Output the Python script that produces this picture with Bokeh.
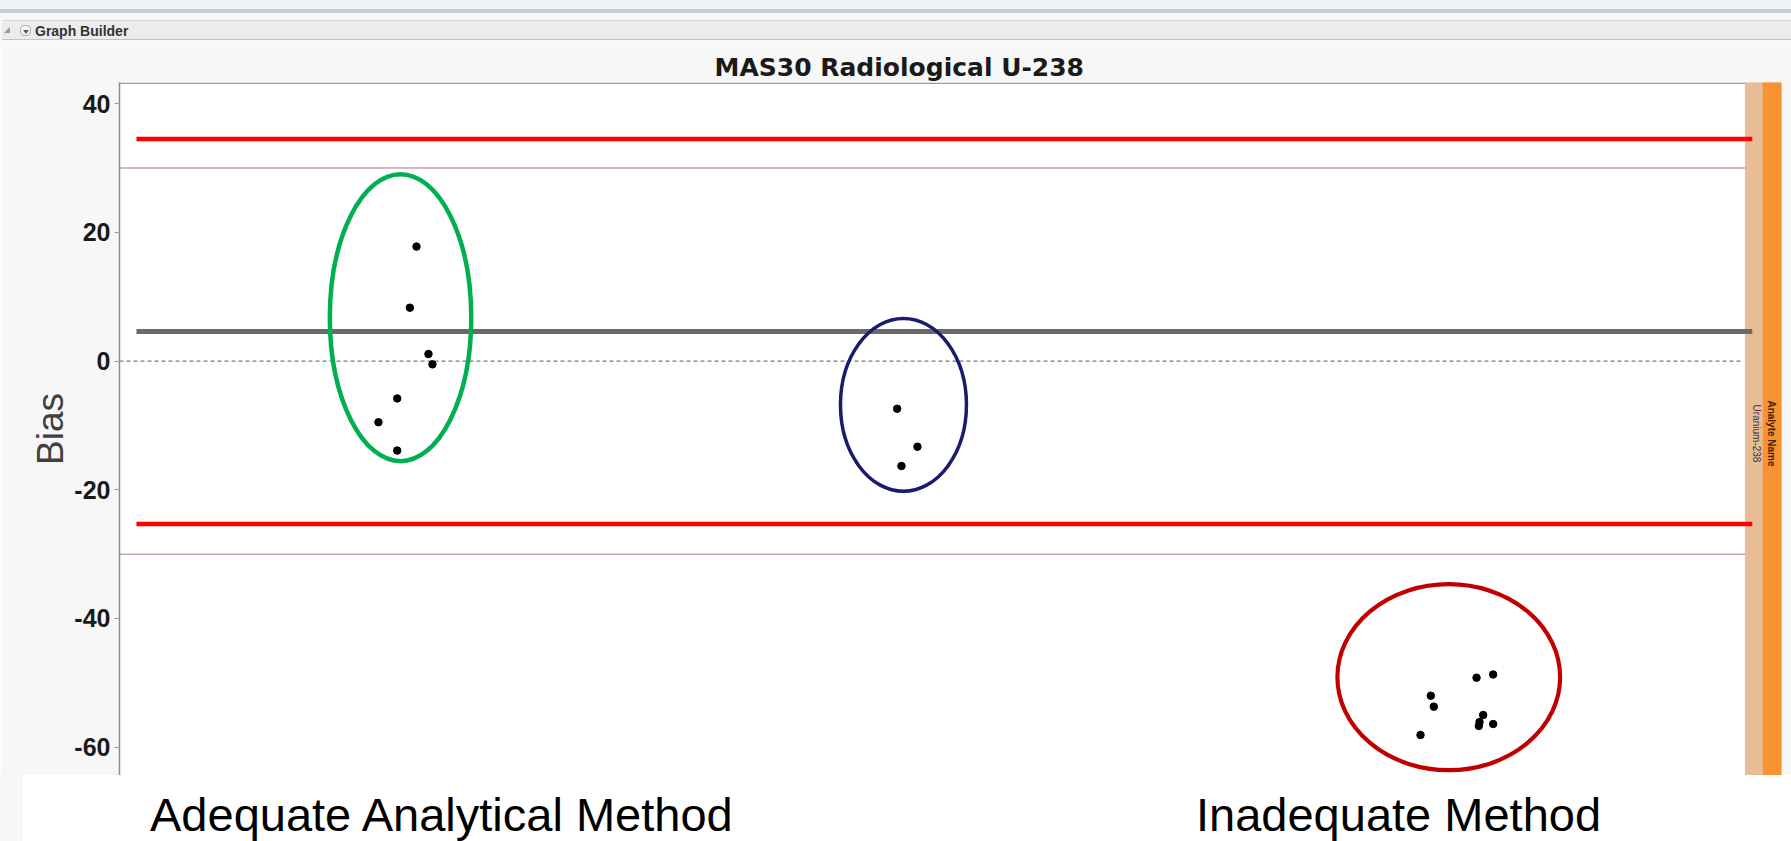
from bokeh.plotting import figure
from bokeh.layouts import column
from bokeh.models import FixedTicker, Div
from bokeh.embed import file_html
from bokeh.resources import INLINE
from bokeh.core.properties import value
import math

# ---------------- data ----------------
TITLE = "MAS30 Radiological U-238"
HEADER = "Graph Builder"
Y_LABEL = "Bias"
Y_TICKS = [-60, -40, -20, 0, 20, 40]
Y_TICK_LABELS = ["-60", "-40", "-20", "0", "20", "40"]
GROUP_LABELS = ["Adequate Analytical Method", "Inadequate Method"]
STRIP_TITLE = "Analyte Name"
STRIP_VALUE = "Uranium-238"

# x = plotting position of each result (0-100 scale), bias in %
adequate_x = [17.87, 17.47, 18.59, 18.83, 16.71, 15.58, 16.71]
adequate_bias = [17.8, 8.3, 1.1, -0.5, -5.8, -9.5, -13.9]
middle_x = [46.79, 48.01, 47.05]
middle_bias = [-7.4, -13.3, -16.3]
inadequate_x = [78.90, 79.08, 78.28, 81.65, 82.65, 82.05, 81.83, 81.79, 82.65]
inadequate_bias = [-52.0, -53.7, -58.1, -49.2, -48.7, -55.0, -56.1, -56.7, -56.4]

upper_limit = 34.5
lower_limit = -25.3
mean_bias = 4.6
accept_hi = 30
accept_lo = -30

# circled groups: centre x, centre bias, width, height
ring_x = [16.91, 47.17, 79.98]
ring_y = [6.75, -6.8, -49.12]
ring_w = [8.51, 7.58, 13.4]
ring_h = [44.6, 26.84, 28.9]
ring_colors = ["#00B050", "#1B1B6E", "#C00000"]
ring_widths = [4.5, 3.5, 4.2]

# ---------------- layout ----------------
W = 1791
FONT = value("Liberation Sans")
BG = "#F7F7F7"
Y0, Y1 = -64.4, 43.3

# header bar (window chrome)
header_html = (
    '<div style="position:relative;width:1791px;height:45px;background:#F7F7F7;overflow:hidden;margin:0;">'
    '<div style="position:absolute;left:0;top:0;width:1791px;height:9px;background:#EEF2F5;"></div>'
    '<div style="position:absolute;left:0;top:9px;width:1791px;height:4px;background:#C3CDD8;"></div>'
    '<div style="position:absolute;left:2px;top:20px;width:1789px;height:20px;background:#ECECEC;'
    'border-top:1px solid #D6D6D6;border-bottom:1px solid #C4C4C4;"></div>'
    '<div style="position:absolute;left:4px;top:27px;width:0;height:0;border-left:6px solid transparent;'
    'border-bottom:6px solid #9A9A9A;"></div>'
    '<div style="position:absolute;left:20px;top:25px;width:11px;height:11px;border:1px solid #B0B0B0;'
    'border-radius:4px;background:#F6F6F6;"></div>'
    '<div style="position:absolute;left:23px;top:30px;width:0;height:0;border-left:3px solid transparent;'
    'border-right:3px solid transparent;border-top:4px solid #555;"></div>'
    '<span style="position:absolute;left:35px;top:23px;font-family:\'Liberation Sans\';font-weight:bold;'
    f'font-size:14px;line-height:17px;color:#333;white-space:nowrap;">{HEADER}</span>'
    '</div>'
)
hdr = Div(text=header_html, width=W, height=45, styles={"overflow": "hidden", "margin": "0"})

# main chart
p = figure(width=W, height=730, x_range=(0, 100), y_range=(Y0, Y1),
           title=TITLE, output_backend="svg", toolbar_location=None,
           x_axis_location=None, min_border_left=119, min_border_right=10,
           min_border_top=37, min_border_bottom=0, outline_line_color=None,
           background_fill_color="white", border_fill_color=BG)
p.grid.visible = False
p.title.text_font = "DejaVu Sans"
p.title.text_font_size = "25px"
p.title.text_font_style = "bold"
p.title.text_color = "#1A1A1A"
p.title.align = "left"
p.title.offset = 595
p.title.standoff = 1

ax = p.yaxis[0]
ax.ticker = FixedTicker(ticks=Y_TICKS)
ax.major_label_overrides = dict(zip(Y_TICKS, Y_TICK_LABELS))
ax.major_label_text_font = "Liberation Sans"
ax.major_label_text_font_size = "25px"
ax.major_label_text_font_style = "bold"
ax.major_label_text_color = "#1A1A1A"
ax.major_label_standoff = 4
ax.major_tick_out = 5
ax.major_tick_in = 0
ax.minor_tick_out = 0
ax.minor_tick_in = 0
ax.axis_line_color = "#8C8C8C"
ax.axis_line_width = 1.5
ax.major_tick_line_color = "#9A9A9A"
ax.axis_label = Y_LABEL
ax.axis_label_text_font = "Liberation Sans"
ax.axis_label_text_font_size = "37px"
ax.axis_label_text_font_style = "normal"
ax.axis_label_text_color = "#404040"
ax.axis_label_standoff = 0

# right-hand group strip
p.quad(left=[97.83], right=[98.9], bottom=[Y0], top=[Y1], color="#E9BC98")
p.quad(left=[98.9], right=[100], bottom=[Y0], top=[Y1], color="#F79332")
p.text(x=[99.4], y=[-11.25], text=[STRIP_TITLE], angle=-math.pi / 2,
       text_font=FONT, text_font_size="10px", text_font_style="bold",
       text_color="#4A2000", text_align="center", text_baseline="middle")
p.text(x=[98.47], y=[-11.25], text=[STRIP_VALUE], angle=-math.pi / 2,
       text_font=FONT, text_font_size="10px", text_color="#3A3A3A",
       text_align="center", text_baseline="middle")

# frame top line
p.segment(x0=[0], x1=[97.83], y0=[Y1 - 0.12], y1=[Y1 - 0.12],
          line_color="#9C9C9C", line_width=1.5)

# acceptance band (thin), zero line, limits, mean
p.segment(x0=[0, 0], x1=[97.83, 97.83], y0=[accept_hi, accept_lo],
          y1=[accept_hi, accept_lo], line_color="#C9A3AA", line_width=1.5)
p.segment(x0=[0], x1=[97.6], y0=[0], y1=[0], line_color="#7A7A7A",
          line_width=1.3, line_dash="4 3")
p.segment(x0=[1.02, 1.02], x1=[98.24, 98.24], y0=[upper_limit, lower_limit],
          y1=[upper_limit, lower_limit], line_color="#FF0000", line_width=4.5)
p.segment(x0=[1.02], x1=[98.24], y0=[mean_bias], y1=[mean_bias],
          line_color="#6A6A6A", line_width=5)

# results
p.scatter(x=adequate_x, y=adequate_bias, size=7.5, color="black")
p.scatter(x=middle_x, y=middle_bias, size=7.5, color="black")
p.scatter(x=inadequate_x, y=inadequate_bias, size=7.5, color="black")

# group rings
p.ellipse(x=ring_x, y=ring_y, width=ring_w, height=ring_h, fill_color=None,
          line_color=ring_colors, line_width=ring_widths)

# bottom caption box
cap_style = ("position:absolute;top:16px;font-family:'Liberation Sans';font-size:47px;"
             "line-height:47px;color:#000;white-space:nowrap;")
bottom_html = (
    '<div style="position:relative;width:1791px;height:66px;background:#F7F7F7;overflow:hidden;margin:0;">'
    '<div style="position:absolute;left:23px;top:0;width:1768px;height:66px;background:#FFFFFF;"></div>'
    f'<span style="{cap_style}left:150px;">{GROUP_LABELS[0]}</span>'
    f'<span style="{cap_style}left:1196px;">{GROUP_LABELS[1]}</span>'
    '</div>'
)
bot = Div(text=bottom_html, width=W, height=66, styles={"overflow": "hidden", "margin": "0"})

layout = column(hdr, p, bot, spacing=0)
open("out.html", "w").write(file_html(layout, INLINE))
